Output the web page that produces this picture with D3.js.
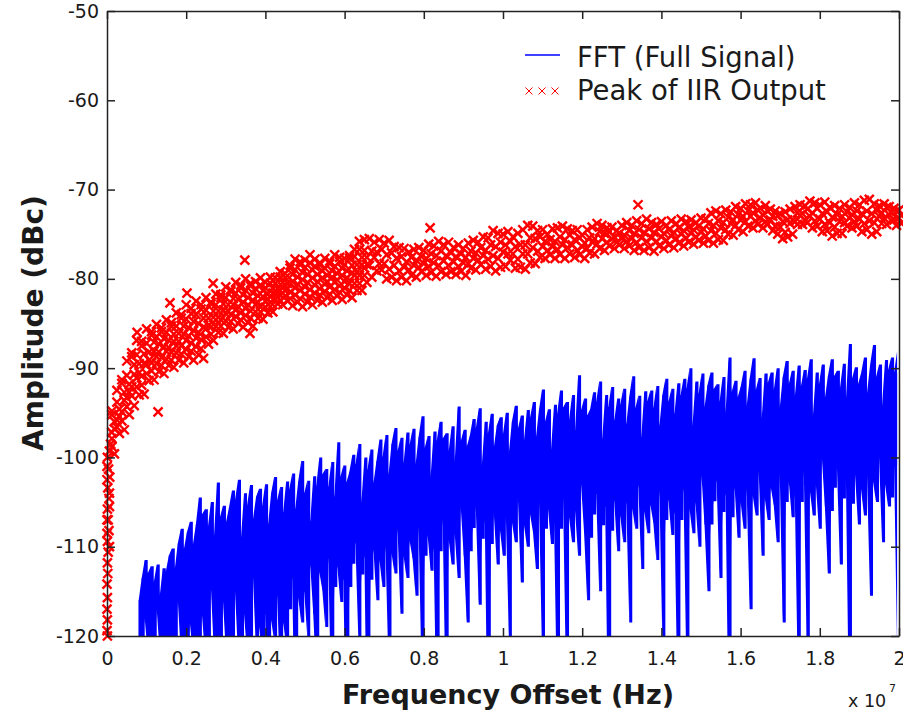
<!DOCTYPE html>
<html>
<head>
<meta charset="utf-8">
<script src="https://cdn.jsdelivr.net/npm/d3@7"></script>
<style>
  body { margin: 0; background: #fff; }
  svg { display: block; }
  text { font-family: "DejaVu Sans", sans-serif; fill: #1a1a1a; }
</style>
</head>
<body>
<svg id="chart" width="903" height="715"></svg>
<script>
// FFT of the full signal: max / min of each bin group (dB)
const fftStartHz = 0.08e7;
const fftStepHz = 0.0076e7;
const fftPeakDb = [
  -116, -113.5, -111.5, -113, -112.2, -114, -112, -115.5, -112.4, -112.8,
  -111, -110.2, -112.5, -109.6, -108, -110.3, -108.4, -107.2, -109.8, -107.5,
  -104.5, -106.4, -105.8, -107.8, -105, -109, -102.8, -106.7, -105.4, -107.3,
  -105.6, -103.7, -104.8, -102.5, -109, -104, -105.4, -103.1, -106.9, -104.4,
  -103.5, -105.5, -103, -107.5, -104, -102.2, -104.8, -103.3, -106.2, -102.7,
  -103.6, -101.8, -105.8, -102.7, -100.4, -104, -102.6, -107.2, -102.1, -103.2,
  -100, -101.9, -101.3, -103.3, -100.5, -104.5, -98.3, -102.2, -100.9, -102.8,
  -101.6, -99.7, -100.8, -98.5, -105, -100, -101.4, -99.1, -102.9, -100.4,
  -98, -100, -97.5, -102, -98.5, -96.7, -99.3, -97.8, -100.7, -97.2,
  -98.6, -96.8, -100.8, -97.7, -95.4, -99, -97.6, -102.2, -97.1, -98.2,
  -96, -97.9, -97.3, -99.3, -96.5, -100.5, -94.3, -98.2, -96.9, -98.8,
  -97.6, -95.7, -96.8, -94.5, -101, -96, -97.4, -95.1, -98.9, -96.4,
  -95.5, -97.5, -95, -99.5, -96, -94.2, -96.8, -95.3, -98.2, -94.7,
  -95.6, -93.8, -97.8, -94.7, -92.4, -96, -94.6, -99.2, -94.1, -95.2,
  -92.5, -94.4, -93.8, -95.8, -93, -97, -90.8, -94.7, -93.4, -95.3,
  -94.6, -92.7, -93.8, -91.5, -98, -93, -94.4, -92.1, -95.9, -93.4,
  -94.1, -92.3, -96.3, -93.2, -90.9, -94.5, -93.1, -97.7, -92.6, -93.7,
  -92.5, -94.5, -92, -96.5, -93, -91.2, -93.8, -92.3, -95.2, -91.7,
  -93.1, -91.2, -92.3, -90, -96.5, -91.5, -92.9, -90.6, -94.4, -91.9,
  -90.5, -92.4, -91.8, -93.8, -91, -95, -88.8, -92.7, -91.4, -93.3,
  -92.1, -90.3, -94.3, -91.2, -88.9, -92.5, -91.1, -95.7, -90.6, -91.7,
  -90.5, -92.5, -90, -94.5, -91, -89.2, -91.8, -90.3, -93.2, -89.7,
  -92.1, -90.2, -91.3, -89, -95.5, -90.5, -91.9, -89.6, -93.4, -90.9,
  -89, -90.9, -90.3, -92.3, -89.5, -93.5, -87.3, -91.2, -89.9, -91.8,
  -90.6, -88.8, -92.8, -89.7, -87.4, -91, -89.6, -94.2, -89.1, -90.2,
  -88.8, -90.5, -88.1
];
const fftTroughDb = [
  -122, -121.5, -118, -122, -121, -122, -117, -122, -121.5, -122,
  -121, -122, -120, -116, -122, -121, -122, -118.5, -122, -121,
  -122, -117.5, -122, -121, -114.5, -122, -121, -122, -116, -122,
  -120, -122, -115, -122, -121, -117.5, -122, -122, -113.5, -122,
  -119, -122, -117.5, -131, -118.2, -120.5, -115.5, -125, -118.5, -121,
  -117, -113.5, -134, -115.7, -118.5, -115, -120, -112, -117.5, -125,
  -112.8, -114.8, -119, -111.2, -128, -114.5, -112.2, -116.2, -113.6, -134,
  -114.5, -111.9, -109.5, -120.5, -113.1, -111, -137.5, -113.7, -110.3, -116,
  -111.5, -114.5, -110, -123.5, -110.7, -113, -108, -117.5, -111, -113.5,
  -109.3, -111.3, -115.5, -107.7, -124.5, -111, -108.7, -112.7, -110.1, -130.5,
  -110.5, -107, -127.5, -109.2, -112, -108.5, -113.5, -105.5, -111, -118.5,
  -110.5, -107.9, -105.5, -116.5, -109.1, -107, -133.5, -109.7, -106.3, -112,
  -108, -111, -106.5, -120, -107.2, -109.5, -104.5, -114, -107.5, -110,
  -106.3, -108.3, -112.5, -104.7, -121.5, -108, -105.7, -109.7, -107.1, -127.5,
  -108, -104.5, -125, -106.7, -109.5, -106, -111, -103, -108.5, -116,
  -109, -106.4, -104, -115, -107.6, -105.5, -132, -108.2, -104.8, -110.5,
  -106.5, -109.5, -105, -118.5, -105.7, -108, -103, -112.5, -106, -108.5,
  -105.3, -107.3, -111.5, -103.7, -120.5, -107, -104.7, -108.7, -106.1, -126.5,
  -107, -103.5, -124, -105.7, -108.5, -105, -110, -102, -107.5, -115,
  -107.5, -104.9, -102.5, -113.5, -106.1, -104, -130.5, -106.7, -103.3, -109,
  -105, -108, -103.5, -117, -104.2, -106.5, -101.5, -111, -104.5, -107,
  -103.3, -105.3, -109.5, -101.7, -118.5, -105, -102.7, -106.7, -104.1, -124.5,
  -105, -101.5, -122, -103.7, -106.5, -103, -108, -100, -105.5, -113,
  -106, -103.4, -101, -112, -104.6, -102.5, -129, -105.2, -101.8, -107.5,
  -103.5, -106.5, -102, -115.5, -102.7, -105, -100, -109.5, -103, -105.5,
  -104.5, -101, -121.5
];

// Peak of IIR output: markers on a 0.0125e7 Hz grid, several rows per column (dB)
const iirStepHz = 0.0125e7;
const iirRowA = [
  -101, -94.8, -92.5, -91.3, -89.2, -88.3, -86.9, -87.0, -85.6, -85.9,
  -85.1, -85.5, -84.6, -84.9, -83.8, -84.0, -82.9, -83.3, -82.5, -82.9,
  -82.1, -82.6, -81.7, -81.8, -80.9, -81.2, -80.4, -80.7, -80.0, -80.5,
  -80.3, -79.9, -80.4, -79.8, -79.9, -79.2, -79.4, -78.5, -77.8, -78.1,
  -77.9, -77.3, -77.8, -78.2, -77.7, -78.0, -77.3, -77.6, -77.7, -77.4,
  -76.7, -75.8, -75.6, -75.5, -75.9, -75.6, -76.0, -75.7, -76.4, -76.5,
  -76.6, -77.0, -76.7, -76.5, -76.8, -76.1, -76.3, -75.8, -76.2, -75.9,
  -76.5, -76.2, -76.6, -76.0, -75.7, -75.9, -75.3, -75.4, -74.6, -74.9,
  -75.0, -74.7, -75.3, -74.9, -74.5, -74.0, -74.1, -74.6, -74.5, -75.0,
  -74.4, -74.3, -74.1, -74.4, -74.6, -74.5, -75.1, -74.5, -74.2, -73.8,
  -74.0, -74.3, -74.2, -74.6, -74.0, -73.7, -74.0, -73.5, -73.8, -73.3,
  -73.7, -73.9, -73.6, -74.0, -73.5, -73.8, -73.3, -73.6, -73.4, -73.7,
  -73.2, -73.3, -72.6, -72.4, -72.7, -72.3, -72.5, -71.9, -72.1, -71.6,
  -71.7, -71.5, -72.1, -71.8, -72.2, -72.4, -72.7, -72.5, -72.2, -71.9,
  -71.7, -71.8, -71.3, -71.5, -71.7, -71.4, -72.0, -71.8, -72.1, -71.7,
  -72.0, -71.5, -71.7, -71.2, -71.1, -71.6, -71.8, -71.6, -71.9, -72.1,
  -72.3
];
const iirRowB = [
  -104, -96.0, -94.6, -92.7, -91.8, -89.6, -89.5, -88.4, -88.2, -87.1,
  -87.3, -86.7, -86.9, -86.2, -86.1, -85.3, -85.5, -84.8, -85.0, -84.4,
  -84.4, -83.6, -83.6, -82.8, -82.9, -82.2, -82.3, -81.8, -82.1, -81.6,
  -81.9, -81.3, -81.7, -81.0, -81.1, -80.4, -80.5, -79.5, -79.8, -79.3,
  -79.5, -79.0, -79.5, -79.1, -79.6, -79.1, -79.4, -78.8, -79.1, -78.5,
  -78.4, -77.6, -77.6, -76.9, -77.0, -76.7, -77.3, -77.1, -77.7, -77.5,
  -78.1, -77.6, -77.9, -77.5, -77.7, -77.2, -77.4, -76.9, -77.4, -77.1,
  -77.5, -77.2, -77.6, -76.9, -77.1, -76.5, -76.8, -76.2, -76.4, -75.9,
  -76.2, -75.8, -76.4, -76.2, -76.2, -75.4, -75.5, -75.3, -75.8, -75.6,
  -75.8, -75.3, -75.6, -75.1, -75.6, -75.4, -76.0, -75.4, -75.5, -74.7,
  -74.9, -74.7, -75.3, -74.9, -75.1, -74.6, -74.9, -74.5, -74.8, -74.4,
  -74.8, -74.4, -74.9, -74.5, -74.8, -74.3, -74.6, -74.2, -74.5, -74.1,
  -74.4, -73.8, -74.0, -73.5, -73.7, -73.1, -73.4, -72.8, -73.0, -72.4,
  -72.6, -72.3, -72.8, -72.4, -73.0, -72.9, -73.6, -73.4, -73.4, -72.6,
  -72.7, -72.2, -72.6, -72.1, -72.7, -72.5, -73.1, -72.8, -73.0, -72.5,
  -72.8, -72.4, -72.7, -72.4, -72.7, -72.3, -72.6, -72.0, -72.6, -72.4,
  -72.9
];
const iirRowC = [
  -107, -97.9, -95.8, -94.9, -93.3, -92.1, -91.1, -90.9, -89.6, -89.4,
  -88.7, -88.8, -88.1, -88.2, -87.5, -87.5, -86.9, -87.2, -86.6, -86.8,
  -85.6, -85.4, -84.6, -84.6, -83.9, -84.0, -83.5, -83.8, -83.3, -83.6,
  -82.9, -83.1, -82.5, -82.6, -81.7, -81.8, -81.3, -81.5, -81.0, -81.3,
  -80.9, -81.2, -80.7, -81.1, -80.6, -80.9, -80.4, -80.8, -80.3, -80.5,
  -79.6, -79.6, -78.8, -78.5, -77.6, -78.3, -78.3, -78.9, -78.5, -79.1,
  -78.7, -79.0, -78.5, -78.7, -78.3, -78.6, -78.2, -78.5, -78.0, -78.5,
  -78.1, -78.6, -78.2, -78.3, -77.7, -77.9, -77.4, -77.8, -77.4, -77.7,
  -77.0, -77.2, -77.2, -77.8, -77.2, -77.2, -76.5, -76.9, -76.4, -76.8,
  -76.4, -76.7, -76.2, -76.5, -76.2, -76.8, -76.4, -76.6, -75.9, -76.1,
  -75.5, -75.9, -75.5, -75.9, -75.5, -75.8, -75.5, -75.9, -75.4, -75.8,
  -75.4, -75.8, -75.3, -75.7, -75.2, -75.5, -75.0, -75.4, -74.9, -75.3,
  -74.8, -75.2, -74.6, -74.9, -74.3, -74.5, -73.8, -74.0, -73.4, -73.6,
  -73.0, -73.5, -73.2, -73.6, -73.4, -74.1, -74.2, -74.8, -73.8, -73.6,
  -72.9, -73.4, -73.0, -73.5, -73.3, -73.9, -73.7, -74.2, -73.6, -73.7,
  -73.2, -73.6, -73.3, -73.8, -73.5, -73.7, -73.0, -73.2, -72.8, -73.4,
  -73.2
];
const iirRowD = [
  -110, -99.6, -97.3, -96.9, -95.2, -94.2, -93.0, -92.9, -91.4, -91.3,
  -90.4, -90.6, -89.7, -89.9, -89.1, -89.4, -88.7, -89.1, -88.5, -88.9,
  -87.3, -86.9, -86.0, -86.1, -85.4, -85.6, -85.0, -85.4, -84.9, -85.3,
  -84.4, -84.5, -83.8, -83.7, -82.8, -82.9, -82.5, -83.0, -82.6, -83.1,
  -82.6, -82.9, -82.4, -82.6, -82.1, -82.4, -81.9, -82.3, -81.8, -82.1,
  -81.3, -81.3, -80.4, -79.8, -79.1, -79.0, -80.0, -79.8, -80.2, -79.8,
  -80.2, -79.6, -79.8, -79.2, -79.6, -79.3, -79.7, -79.2, -79.5, -79.2,
  -79.5, -79.2, -79.6, -78.8, -79.0, -78.4, -78.9, -78.6, -79.1, -78.7,
  -78.6, -77.9, -78.8, -78.7, -78.9, -78.2, -78.3, -77.6, -77.7, -77.3,
  -77.7, -77.3, -77.7, -77.2, -77.6, -77.3, -77.7, -77.1, -77.2, -76.6,
  -76.8, -76.3, -76.6, -76.2, -76.6, -76.3, -76.8, -76.5, -76.8, -76.5,
  -76.9, -76.3, -76.6, -76.2, -76.5, -76.0, -76.3, -75.9, -76.1, -75.7,
  -76.0, -75.7, -76.0, -75.6, -75.7, -75.0, -75.1, -74.5, -74.7, -74.1,
  -74.3, -73.9, -74.3, -73.9, -74.6, -75.0, -75.5, -75.3, -75.0, -73.9,
  -73.9, -73.7, -74.3, -74.1, -74.7, -74.6, -75.2, -74.9, -74.9, -74.1,
  -74.3, -74.1, -74.7, -74.5, -75.0, -74.7, -73.8, -73.9, -73.5, -74.0,
  -73.8
];
// extra rows where the band is wide (first 53 columns)
const iirRowE = [
  -102.5, -95.2, -93.8, -91.7, -90.8, -88.7, -88.5, -87.5, -87.2, -86.3,
  -86.5, -85.9, -86.0, -85.3, -85.3, -84.4, -84.5, -83.9, -84.0, -83.4,
  -83.5, -82.8, -82.9, -82.1, -82.1, -81.4, -81.6, -81.0, -81.3, -80.8,
  -81.1, -80.7, -81.0, -80.5, -80.5, -79.8, -79.9, -78.8, -79.0, -78.4,
  -78.7, -78.2, -78.6, -78.4, -78.8, -78.3, -78.6, -78.1, -78.4, -77.7,
  -77.5, -76.7, -76.8
];
const iirRowM = [
  -105.5, -96.8, -95.4, -93.6, -92.7, -90.7, -90.5, -89.5, -89.1, -88.1,
  -88.2, -87.6, -87.7, -87.0, -87.0, -86.2, -86.4, -85.8, -86.0, -85.4,
  -85.2, -84.3, -84.3, -83.5, -83.6, -82.9, -83.1, -82.6, -82.9, -82.4,
  -82.6, -82.0, -82.3, -81.6, -81.6, -80.9, -81.1, -80.3, -80.6, -80.1,
  -80.4, -79.9, -80.3, -79.9, -80.3, -79.8, -80.1, -79.6, -79.9, -79.3,
  -79.2, -78.4, -78.4
];
const iirRowF = [
  -108.5, -98.8, -96.6, -95.9, -94.3, -93.1, -92.1, -91.9, -90.6, -90.3,
  -89.5, -89.7, -89.0, -89.1, -88.3, -88.4, -87.9, -88.1, -87.6, -87.8,
  -86.5, -86.2, -85.3, -85.3, -84.7, -84.8, -84.2, -84.6, -84.1, -84.4,
  -83.7, -83.7, -83.2, -83.1, -82.3, -82.4, -81.9, -82.2, -81.8, -82.2,
  -81.7, -82.0, -81.6, -81.8, -81.4, -81.7, -81.2, -81.5, -81.0, -81.3,
  -80.5, -80.5, -79.6
];
// [Hz, dB] points near zero offset and isolated outliers
const iirNearZero = [
  [0.001e7, -100], [0.004e7, -101.3], [0.007e7, -102.2], [0.002e7, -103.4],
  [0.005e7, -104.6], [0.001e7, -105.8], [0.003e7, -107], [0.005e7, -108.2],
  [0.001e7, -109.4], [0.003e7, -110.6], [0.001e7, -111.8], [0.002e7, -113],
  [0, -114.2], [0.001e7, -115.7], [0, -117], [0.001e7, -118.2], [0, -119.4],
  [0.001e7, -120], [0.009e7, -98.5], [0.012e7, -97.2], [0.006e7, -99.3]
];
const iirOutliers = [
  [0.348e7, -77.9], [0.268e7, -80.5], [0.202e7, -81.6], [0.159e7, -82.7],
  [0.076e7, -86.0], [0.361e7, -86.1], [0.129e7, -94.9], [0.816e7, -74.3],
  [1.341e7, -71.7]
];

const xTicks = [0, 0.2e7, 0.4e7, 0.6e7, 0.8e7, 1e7, 1.2e7, 1.4e7, 1.6e7, 1.8e7, 2e7];
const xTickLabels = ['0', '0.2', '0.4', '0.6', '0.8', '1', '1.2', '1.4', '1.6', '1.8', '2'];
const yTicks = [-120, -110, -100, -90, -80, -70, -60, -50];
const legendLabels = ['FFT (Full Signal)', 'Peak of IIR Output'];

const svg = d3.select('#chart');
const x = d3.scaleLinear().domain([0, 2e7]).range([107, 899]);
const y = d3.scaleLinear().domain([-120, -50]).range([636, 11]);

svg.append('clipPath').attr('id', 'plot')
  .append('rect')
  .attr('x', x(0)).attr('y', y(-50))
  .attr('width', x(2e7) - x(0)).attr('height', y(-120) - y(-50));

// FFT trace: far denser than a pixel, so it is drawn as its max/min span per bin group
// (a stepped span and a linear span together give the narrow spikes of the original)
const fftGroups = fftPeakDb.map((p, i) => ({ f: fftStartHz + i * fftStepHz, hi: p, lo: fftTroughDb[i] }));
const fftSpan = d3.area().x(d => x(d.f)).y0(d => y(d.lo)).y1(d => y(d.hi));
const fftLayer = svg.append('g').attr('clip-path', 'url(#plot)');
fftLayer.append('path')
  .datum(fftGroups)
  .attr('fill', '#0000ff')
  .attr('d', fftSpan.curve(d3.curveLinear)(fftGroups));
fftLayer.append('path')
  .datum(fftGroups)
  .attr('fill', '#0000ff')
  .attr('d', fftSpan.curve(d3.curveStepAfter)(fftGroups));

// IIR peak markers; alternate rows sit half a grid step over
const iirPoints = [];
[[iirRowA, 0], [iirRowB, 0.5], [iirRowC, 0], [iirRowD, 0.5],
 [iirRowE, 0], [iirRowM, 0.5], [iirRowF, 0]].forEach(([row, shift]) => {
  row.forEach((v, i) => iirPoints.push([(i + shift) * iirStepHz, v]));
});
iirNearZero.forEach(d => iirPoints.push(d));
iirOutliers.forEach(d => iirPoints.push(d));

const cross = s => `M${-s},${-s}L${s},${s}M${-s},${s}L${s},${-s}`;
svg.append('g')
  .selectAll('path')
  .data(iirPoints)
  .enter()
  .append('path')
  .attr('transform', d => `translate(${x(d[0])},${y(d[1])})`)
  .attr('d', cross(4.5))
  .attr('fill', 'none')
  .attr('stroke', '#ff0000')
  .attr('stroke-width', 2.4);

// axes, ticks pointing inward on all four sides
const styleAxis = g => {
  g.select('.domain').attr('stroke', '#222').attr('stroke-width', 1.5);
  g.selectAll('.tick line').attr('stroke', '#222').attr('stroke-width', 1.5);
  g.selectAll('.tick text').attr('fill', '#1a1a1a')
    .style('font-size', '19px').style('font-family', '"DejaVu Sans", sans-serif');
};
svg.append('g')
  .attr('transform', `translate(0,${y(-120)})`)
  .call(d3.axisBottom(x).tickValues(xTicks).tickFormat((d, i) => xTickLabels[i])
    .tickSizeInner(-8).tickSizeOuter(0).tickPadding(15.5))
  .call(styleAxis);
svg.append('g')
  .attr('transform', `translate(0,${y(-50)})`)
  .call(d3.axisTop(x).tickValues(xTicks).tickFormat('').tickSizeInner(-8).tickSizeOuter(0))
  .call(styleAxis);
svg.append('g')
  .attr('transform', `translate(${x(0)},0)`)
  .call(d3.axisLeft(y).tickValues(yTicks).tickFormat(d3.format('d'))
    .tickSizeInner(-8).tickSizeOuter(0).tickPadding(8))
  .call(styleAxis);
svg.append('g')
  .attr('transform', `translate(${x(2e7)},0)`)
  .call(d3.axisRight(y).tickValues(yTicks).tickFormat('').tickSizeInner(-8).tickSizeOuter(0))
  .call(styleAxis);
svg.selectAll('.tick text').text(function () { return this.textContent.replace('\u2212', '-'); });

// exponent
svg.append('text').attr('x', 848).attr('y', 707).style('font-size', '17.5px').text('x 10');
svg.append('text').attr('x', 889).attr('y', 692).style('font-size', '11px').text('7');

// axis titles
svg.append('text')
  .attr('x', 508).attr('y', 704)
  .attr('text-anchor', 'middle')
  .style('font-size', '27px').style('font-weight', 'bold')
  .text('Frequency Offset (Hz)');
svg.append('text')
  .attr('transform', 'translate(43,323) rotate(-90)')
  .attr('text-anchor', 'middle')
  .style('font-size', '28px').style('font-weight', 'bold')
  .text('Amplitude (dBc)');

// legend
const legend = svg.append('g');
legend.append('line')
  .attr('x1', 525).attr('x2', 560).attr('y1', 55).attr('y2', 55)
  .attr('stroke', '#0000ff').attr('stroke-width', 1.5);
legend.selectAll('path.key')
  .data([529, 542, 555])
  .enter()
  .append('path')
  .attr('class', 'key')
  .attr('transform', d => `translate(${d},91)`)
  .attr('d', cross(3.5))
  .attr('fill', 'none')
  .attr('stroke', '#ff0000')
  .attr('stroke-width', 1);
legend.selectAll('text')
  .data(legendLabels)
  .enter()
  .append('text')
  .attr('x', 577)
  .attr('y', (d, i) => 67 + i * 33)
  .style('font-size', '27.5px')
  .text(d => d);
</script>
</body>
</html>
